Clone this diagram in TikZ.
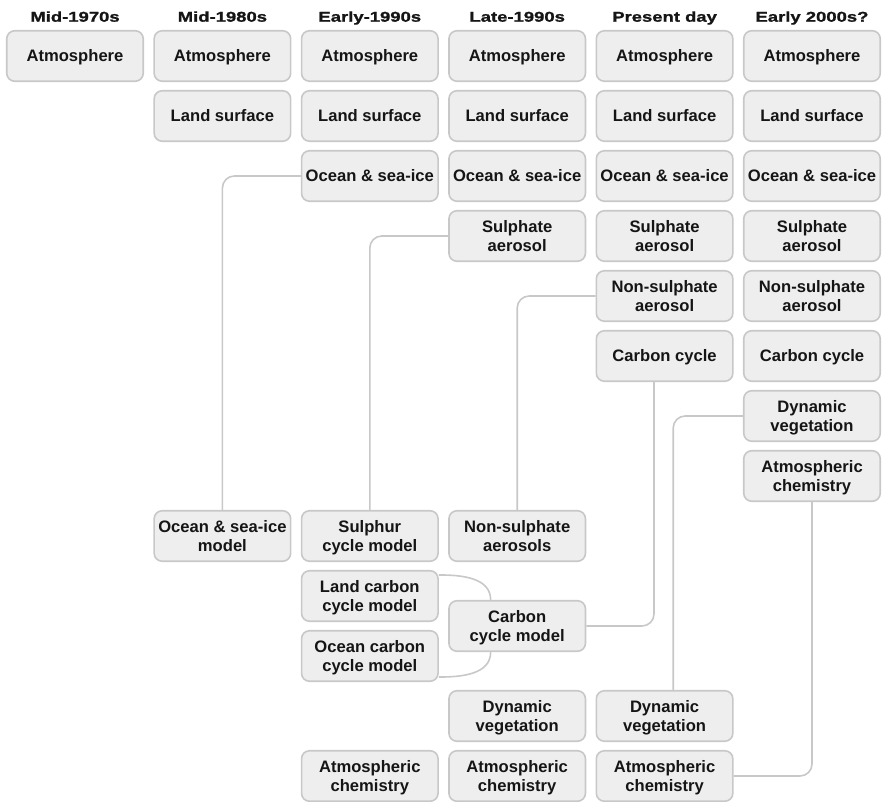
\documentclass[tikz,border=0pt]{standalone}
\usepackage{fontspec}
\setmainfont{Liberation Sans}
\newfontfamily\hdrfont[FakeStretch=1.3,FakeBold=1.2]{Liberation Sans}
\usetikzlibrary{calc}
\definecolor{boxfill}{HTML}{EEEEEE}
\definecolor{boxline}{HTML}{C8C8C8}
\definecolor{txt}{HTML}{151515}
\tikzset{
  box/.style={draw=boxline, fill=boxfill, rounded corners=8pt, line width=1.6pt,
    minimum width=136.5pt, minimum height=50.5pt, inner sep=0pt, align=center,
    text=txt, font=\fontsize{16.6}{18.3}\selectfont\bfseries,
    text height=11.9pt, text depth=0pt},
  boxtwo/.style={box, text height=30.2pt, text depth=0pt},
  hdr/.style={anchor=base, text=txt, inner sep=0pt,
    font=\hdrfont\fontsize{14.2}{16}\selectfont\bfseries},
  link/.style={draw=boxline, line width=1.6pt, rounded corners=12pt},
  arcl/.style={draw=boxline, line width=1.6pt}
}
\begin{document}
\begin{tikzpicture}[x=1pt,y=-1pt]
\useasboundingbox (0,0) rectangle (884,802);
% headers
\node[hdr] (h0) at (75,21.7) {Mid-1970s};
\node[hdr] (h1) at (222.4,21.7) {Mid-1980s};
\node[hdr] (h2) at (369.8,21.7) {Early-1990s};
\node[hdr] (h3) at (517.2,21.7) {Late-1990s};
\node[hdr] (h4) at (664.6,21.7) {Present day};
\node[hdr] (h5) at (812,21.7) {Early 2000s?};
% column 0
\node[box] (a0) at (75,56) {Atmosphere};
% column 1
\node[box] (a1) at (222.4,56) {Atmosphere};
\node[box] (l1) at (222.4,116) {Land surface};
\node[boxtwo] (osm) at (222.4,536) {Ocean \& sea-ice\\model};
% column 2
\node[box] (a2) at (369.8,56) {Atmosphere};
\node[box] (l2) at (369.8,116) {Land surface};
\node[box] (o2) at (369.8,176) {Ocean \& sea-ice};
\node[boxtwo] (scm) at (369.8,536) {Sulphur\\cycle model};
\node[boxtwo] (lcm) at (369.8,596) {Land carbon\\cycle model};
\node[boxtwo] (ocm) at (369.8,656) {Ocean carbon\\cycle model};
\node[boxtwo] (ac2) at (369.8,776) {Atmospheric\\chemistry};
% column 3
\node[box] (a3) at (517.2,56) {Atmosphere};
\node[box] (l3) at (517.2,116) {Land surface};
\node[box] (o3) at (517.2,176) {Ocean \& sea-ice};
\node[boxtwo] (s3) at (517.2,236) {Sulphate\\aerosol};
\node[boxtwo] (nsa3) at (517.2,536) {Non-sulphate\\aerosols};
\node[boxtwo] (ccm) at (517.2,626) {Carbon\\cycle model};
\node[boxtwo] (dv3) at (517.2,716) {Dynamic\\vegetation};
\node[boxtwo] (ac3) at (517.2,776) {Atmospheric\\chemistry};
% column 4
\node[box] (a4) at (664.6,56) {Atmosphere};
\node[box] (l4) at (664.6,116) {Land surface};
\node[box] (o4) at (664.6,176) {Ocean \& sea-ice};
\node[boxtwo] (s4) at (664.6,236) {Sulphate\\aerosol};
\node[boxtwo] (ns4) at (664.6,296) {Non-sulphate\\aerosol};
\node[box] (cc4) at (664.6,356) {Carbon cycle};
\node[boxtwo] (dv4) at (664.6,716) {Dynamic\\vegetation};
\node[boxtwo] (ac4) at (664.6,776) {Atmospheric\\chemistry};
% column 5
\node[box] (a5) at (812,56) {Atmosphere};
\node[box] (l5) at (812,116) {Land surface};
\node[box] (o5) at (812,176) {Ocean \& sea-ice};
\node[boxtwo] (s5) at (812,236) {Sulphate\\aerosol};
\node[boxtwo] (ns5) at (812,296) {Non-sulphate\\aerosol};
\node[box] (cc5) at (812,356) {Carbon cycle};
\node[boxtwo] (dv5) at (812,416) {Dynamic\\vegetation};
\node[boxtwo] (ac5) at (812,476) {Atmospheric\\chemistry};
% connectors
\draw[link] (o2.west) -| (osm.north);
\draw[link] (s3.west) -| (scm.north);
\draw[link] (ns4.west) -| (nsa3.north);
\draw[link] ([xshift=-10.6pt]cc4.south) |- (ccm.east);
\draw[link] (dv5.west) -| ([xshift=8.6pt]dv4.north);
\draw[link] (ac5.south) |- (ac4.east);
\draw[arcl] ($(lcm.north east)+(0,5)$) to[out=0,in=90] ($(ccm.north west)+(42.5,0)$);
\draw[arcl] ($(ocm.south east)+(0,-5)$) to[out=0,in=-90] ($(ccm.south west)+(42.5,0)$);
\end{tikzpicture}
\end{document}
